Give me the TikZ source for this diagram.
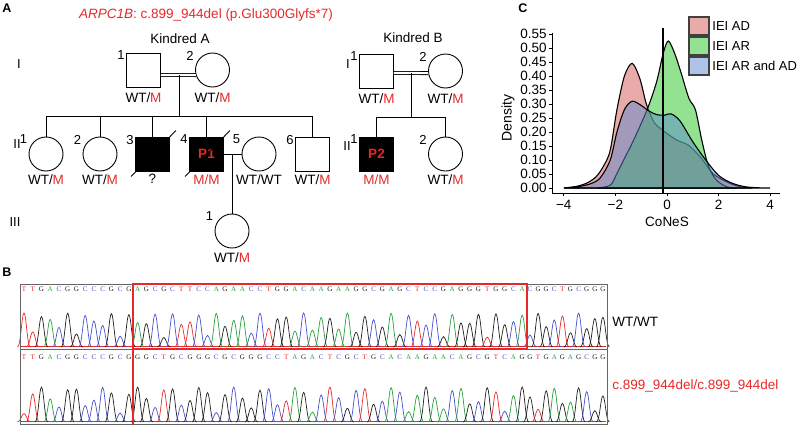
\documentclass[tikz,border=0pt]{standalone}
\usepackage{fontspec}
\setmainfont{Liberation Sans}
\newfontfamily\seqfont{Liberation Serif}
\usepackage{xcolor}
\usetikzlibrary{positioning}
\definecolor{mutred}{RGB}{232,40,40}
\definecolor{colA}{RGB}{40,160,60}
\definecolor{colC}{RGB}{70,80,205}
\definecolor{colG}{RGB}{30,30,30}
\definecolor{colT}{RGB}{235,40,40}
\definecolor{adpink}{RGB}{211,85,85}
\definecolor{argreen}{RGB}{37,197,37}
\definecolor{bothblue}{RGB}{93,137,205}
\newcommand{\mutM}{\textcolor{mutred}{M}}
\def\wtseq{T,T,G,A,C,G,G,C,C,C,G,C,G,A,G,C,G,C,T,T,C,C,A,G,A,A,C,C,T,G,G,A,C,A,A,G,A,A,G,G,C,G,A,G,C,T,C,C,G,A,G,G,G,T,G,G,C,A,C,G,G,C,T,G,C,G,G,G}
\def\mutseq{T,T,G,A,C,G,G,C,C,C,G,C,G,G,G,C,T,G,C,G,G,G,C,G,C,G,G,G,C,C,T,A,G,A,C,T,C,G,C,T,G,C,A,C,A,A,G,A,A,C,A,G,C,G,T,C,A,G,G,T,G,A,G,A,G,C,G,G}

\begin{document}
\begin{tikzpicture}[x=1pt, y=-1pt, line width=0.9pt,
    male/.style={rectangle, draw, minimum size=34pt, inner sep=0pt},
    female/.style={circle, draw, minimum size=34pt, inner sep=0pt},
    patient/.style={male, fill=black, text=mutred, font=\fontsize{13.5}{15}\selectfont\bfseries},
    num/.style={anchor=north east, inner sep=1pt, yshift=3pt, font=\fontsize{13}{15}\selectfont},
    geno/.style={inner sep=1pt, font=\fontsize{13.5}{15}\selectfont},
    genlab/.style={font=\fontsize{13}{15}\selectfont},
    panel/.style={font=\fontsize{12.5}{14}\selectfont\bfseries},
    dbl/.style={double, double distance=2.2pt, line width=0.8pt},
    dens/.style={draw=black, line width=1.1pt, fill opacity=0.5},
    ticklab/.style={font=\fontsize{13.5}{15}\selectfont, inner sep=1pt},
    legkey/.style={draw=black!75, line width=1.2pt, fill opacity=0.5, minimum width=20pt, minimum height=18pt, inner sep=0pt},
    seqbase/.style={font=\seqfont\fontsize{7}{8}\selectfont, inner sep=0pt},
    chromo/.style={line width=0.7pt}
  ]
  \useasboundingbox (0,0) rectangle (800,426);

  % panel A
  \node[panel] (pA) at (7,8) {A};
  \node[geno, text=mutred] (title) at (206,15) {\textit{ARPC1B}: c.899\_944del (p.Glu300Glyfs*7)};
  \node[geno] (kinA) at (180,39) {Kindred A};
  \node[geno] (kinB) at (413,38) {Kindred B};
  \node[genlab] (gAI) at (19,64) {I};
  \node[genlab] (gAII) at (17,144) {II};
  \node[genlab] (gAIII) at (15,222) {III};
  \node[genlab] (gBI) at (348,64) {I};
  \node[genlab] (gBII) at (347,146) {II};

  \node[male] (aI1) at (143.5,70) {};
  \node[female] (aI2) at (212.5,70) {};
  \node[female] (aII1) at (46,154) {};
  \node[female] (aII2) at (100,154) {};
  \node[patient] (aII3) at (152.5,154) {};
  \node[patient] (aII4) at (206.5,154) {P1};
  \node[female] (aII5) at (259,154) {};
  \node[male] (aII6) at (312.5,154) {};
  \node[female] (aIII1) at (232,231) {};
  \node[male] (bI1) at (376.5,71) {};
  \node[female] (bI2) at (445.5,71) {};
  \node[patient] (bII1) at (376.5,154) {P2};
  \node[female] (bII2) at (445.5,154) {};

  \foreach \p/\n in {aI1/1, aI2/2, aII1/1, aII2/2, aII3/3, aII4/4, aII5/5, aII6/6, aIII1/1, bI1/1, bI2/2, bII1/1, bII2/2}
    \node[num] (n\p) at (\p.west |- \p.north) {\n};

  \node[geno, below=4pt of aI1] (gaI1) {WT/\mutM};
  \node[geno, below=4pt of aI2] (gaI2) {WT/\mutM};
  \node[geno, below=1.5pt of aII1] (gaII1) {WT/\mutM};
  \node[geno, below=1.5pt of aII2] (gaII2) {WT/\mutM};
  \node[geno, below=1.5pt of aII3] (gaII3) {?};
  \node[geno, below=1.5pt of aII4, text=mutred] (gaII4) {M/M};
  \node[geno, below=1.5pt of aII5] (gaII5) {WT/WT};
  \node[geno, below=1.5pt of aII6] (gaII6) {WT/\mutM};
  \node[geno, below=2.5pt of aIII1] (gaIII1) {WT/\mutM};
  \node[geno, below=4pt of bI1] (gbI1) {WT/\mutM};
  \node[geno, below=4pt of bI2] (gbI2) {WT/\mutM};
  \node[geno, below=1.5pt of bII1, text=mutred] (gbII1) {M/M};
  \node[geno, below=1.5pt of bII2] (gbII2) {WT/\mutM};

  \draw[dbl] ([yshift=-5pt]aI1.east) -- (aI2.197);
  \coordinate (mA) at (179,75);
  \coordinate (sA) at (179,116);
  \draw (mA) -- (sA);
  \draw (aII1.north |- sA) -- (aII6.north |- sA);
  \foreach \c in {aII1, aII2, aII3, aII4, aII6}
    \draw (\c) -- (\c.north |- sA);
  \draw (aII4) -- (aII5);
  \coordinate (cA) at (232,154);
  \draw (cA) -- (aIII1);
  \draw ([shift={(-4,5)}]aII3.south west) -- ([shift={(6,-6)}]aII3.north east);
  \draw ([shift={(-4,5)}]aII4.south west) -- ([shift={(6,-6)}]aII4.north east);

  \draw[dbl] ([yshift=-2pt]bI1.east) -- (bI2.187);
  \coordinate (mB) at (411,73);
  \coordinate (sB) at (411,117);
  \draw (mB) -- (sB);
  \draw (bII1.north |- sB) -- (bII2.north |- sB);
  \draw (bII1) -- (bII1.north |- sB);
  \draw (bII2) -- (bII2.north |- sB);

  % panel C
  \node[panel] (pC) at (523,8) {C};
  \begin{scope}[shift={(667,188)}, x=25.8pt, y=280pt]
    \draw[dens, fill=adpink] plot[smooth] coordinates {(-4,0) (-3.5,0.006) (-3.1,0.018) (-2.75,0.04) (-2.45,0.08) (-2.2,0.135) (-1.94,0.28) (-1.65,0.4) (-1.35,0.445) (-1.05,0.39) (-0.8,0.3) (-0.5,0.235) (-0.15,0.205) (0.4,0.17) (0.8,0.155) (1.3,0.11) (1.8,0.05) (2.4,0.018) (2.9,0.003) (3.3,0)} -- cycle;
    \draw[dens, fill=argreen] plot[smooth] coordinates {(-2.7,0) (-2.2,0.01) (-1.95,0.05) (-1.68,0.1) (-1.3,0.17) (-0.77,0.28) (-0.4,0.38) (-0.15,0.48) (0.05,0.525) (0.3,0.48) (0.55,0.41) (0.85,0.32) (1.1,0.28) (1.35,0.17) (1.6,0.08) (1.9,0.03) (2.3,0.005) (2.7,0)} -- cycle;
    \draw[dens, fill=bothblue] plot[smooth] coordinates {(-4,0) (-3.5,0.004) (-3.0,0.014) (-2.6,0.035) (-2.2,0.1) (-1.94,0.2) (-1.65,0.28) (-1.35,0.31) (-1.0,0.295) (-0.7,0.275) (-0.4,0.262) (-0.1,0.26) (0.15,0.265) (0.5,0.24) (1.0,0.165) (1.5,0.1) (2.0,0.045) (2.5,0.018) (3.0,0.005) (3.5,0.001) (4,0)} -- cycle;
  \end{scope}
  \draw[line width=2.6pt] (663,28) -- (663,193);
  \draw[line width=1pt] (552,33) -- (552,193) -- (780,193);
  \foreach \v [count=\k] in {0.00,0.05,0.10,0.15,0.20,0.25,0.30,0.35,0.40,0.45,0.50,0.55} {
    \draw[line width=1pt] (552,{188-280*\v}) -- (549,{188-280*\v});
    \node[ticklab, anchor=east] (yt\k) at (548,{188-280*\v}) {\v};
  }
  \foreach \v/\t [count=\k] in {-4/−4, -2/−2, 0/0, 2/2, 4/4} {
    \draw[line width=1pt] ({667+25.8*(\v)},193) -- ({667+25.8*(\v)},196);
    \node[ticklab, anchor=north] (xt\k) at ({667+25.8*(\v)},199) {\t};
  }
  \node[ticklab, rotate=90, font=\fontsize{14}{16}\selectfont] (ylab) at (508,118) {Density};
  \node[ticklab] (xlab) at (667,222) {CoNeS};
  \node[legkey, fill=adpink] (kAD) at (699,26) {};
  \node[legkey, fill=argreen] (kAR) at (699,46) {};
  \node[legkey, fill=bothblue] (kBoth) at (699,66) {};
  \node[ticklab, font=\fontsize{13}{15}\selectfont, anchor=west] (tAD) at (711,26) {IEI AD};
  \node[ticklab, font=\fontsize{13}{15}\selectfont, anchor=west] (tAR) at (711,46) {IEI AR};
  \node[ticklab, font=\fontsize{13}{15}\selectfont, anchor=west] (tBoth) at (711,66) {IEI AR and AD};

  % panel B
  \node[panel] (pB) at (7,272) {B};
  \draw[chromo, colT] (21,346.3) -- (606,346.3);
  \draw[chromo, colT] (21,421.3) -- (606,421.3);
  \foreach \b [count=\i] in \wtseq {
    \pgfmathsetmacro{\xx}{\i<59 ? 24+(\i-1)*8.74 : 530+(\i-59)*8.1}
    \pgfmathsetmacro{\hh}{9+25*abs(sin(\i*73+20))}
    \node[seqbase, text=col\b] (w\i) at (\xx,289) {\b};
    \draw[chromo, col\b] (\xx-6.5,347) .. controls (\xx-3.2,347) and (\xx-2.2,347-\hh) .. (\xx,347-\hh) .. controls (\xx+2.2,347-\hh) and (\xx+3.2,347) .. (\xx+6.5,347);
  }
  \foreach \b [count=\i] in \mutseq {
    \pgfmathsetmacro{\xx}{\i<59 ? 24+(\i-1)*8.74 : 530+(\i-59)*8.1}
    \pgfmathsetmacro{\hh}{8+27*abs(sin(\i*131+50))}
    \node[seqbase, text=col\b] (m\i) at (\xx,357) {\b};
    \draw[chromo, col\b] (\xx-6.5,422) .. controls (\xx-3.2,422) and (\xx-2.2,422-\hh) .. (\xx,422-\hh) .. controls (\xx+2.2,422-\hh) and (\xx+3.2,422) .. (\xx+6.5,422);
  }
  \draw[black!60] (20,284) rectangle (607,424);
  \draw[black!60] (20,349) -- (607,349);
  \draw[mutred, line width=1.3pt] (133,284) rectangle (527,349);
  \draw[mutred, line width=1.3pt] (133,349) -- (133,424);
  \node[geno, anchor=west] (wtlab) at (611,322) {WT/WT};
  \node[geno, anchor=west, text=mutred] (mutlab) at (611,386) {c.899\_944del/c.899\_944del};
\end{tikzpicture}
\end{document}
